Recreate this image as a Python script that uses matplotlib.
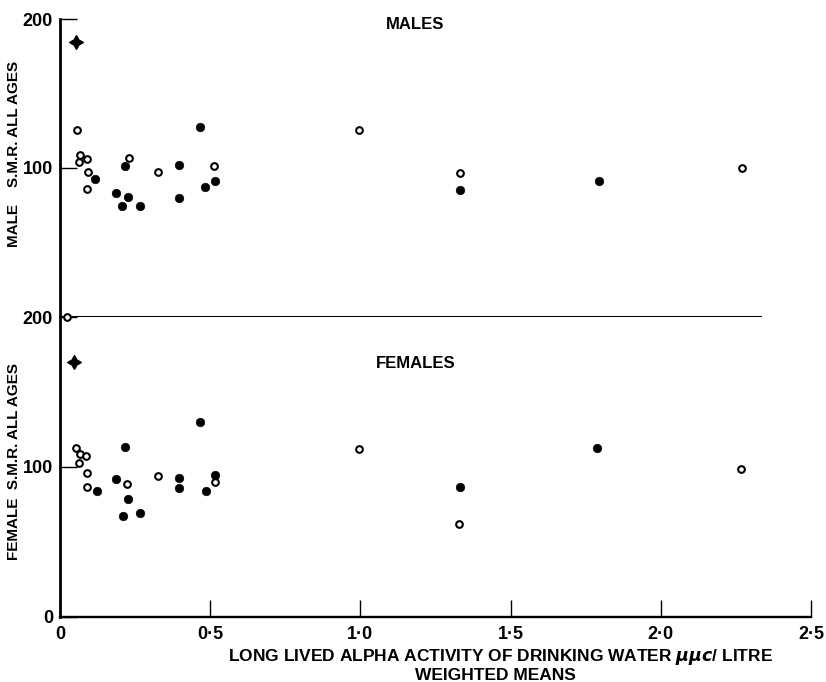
import matplotlib
matplotlib.use("Agg")
import matplotlib.pyplot as plt

plt.rcParams['font.family'] = ['Liberation Sans Narrow', 'Liberation Sans', 'DejaVu Sans']
plt.rcParams['font.weight'] = 'bold'
plt.rcParams['mathtext.fontset'] = 'dejavusans'

# males: open circles, filled circles, star
male_open_x = [0.056, 0.067, 0.089, 0.064, 0.092, 0.090, 0.229, 0.325, 0.514, 0.997, 1.333, 2.269]
male_open_y = [125.5, 108.7, 105.8, 103.8, 97.1, 85.7, 107.0, 97.5, 101.3, 125.5, 96.8, 100.0]
male_filled_x = [0.118, 0.188, 0.208, 0.228, 0.218, 0.267, 0.397, 0.397, 0.466, 0.484, 0.517, 1.333, 1.793]
male_filled_y = [92.6, 83.5, 74.3, 80.7, 101.5, 74.3, 102.2, 79.9, 127.7, 87.2, 91.1, 85.4, 91.1]
male_star_x = [0.053]
male_star_y = [184.6]

# females
female_open_x = [0.054, 0.067, 0.087, 0.064, 0.089, 0.089, 0.223, 0.327, 0.515, 0.995, 1.329, 2.268, 0.022]
female_open_y = [112.6, 108.4, 107.2, 102.5, 95.6, 86.5, 88.5, 93.6, 89.6, 111.9, 61.5, 98.5, 200.0]
female_filled_x = [0.122, 0.188, 0.218, 0.226, 0.209, 0.267, 0.397, 0.395, 0.465, 0.487, 0.515, 1.332, 1.789]
female_filled_y = [83.6, 91.8, 113.0, 78.7, 66.9, 69.1, 92.8, 85.6, 130.0, 84.1, 94.3, 86.3, 112.6]
female_star_x = [0.046]
female_star_y = [170.1]

x_ticks = [0, 0.5, 1.0, 1.5, 2.0, 2.5]
x_tick_labels = ['0', '0\u00b75', '1\u00b70', '1\u00b75', '2\u00b70', '2\u00b75']

W, H = 826, 682
fig = plt.figure(figsize=(W / 100, H / 100), dpi=100)

left = 60 / W
width = (811 - 60) / W
ax1 = fig.add_axes([left, 1 - 317 / H, width, (317 - 19) / H])
ax2 = fig.add_axes([left, 1 - 616.5 / H, width, (616.5 - 317) / H])

xlim = (0, 2.5)


def draw_points(ax, ox, oy, fx, fy, sx, sy):
    ax.plot(ox, oy, 'o', ms=4.8, mfc='white', mec='black', mew=1.5, ls='none', clip_on=False, zorder=3)
    ax.plot(fx, fy, 'o', ms=6.2, mew=0.4, color='black', ls='none', clip_on=False, zorder=3)
    ax.plot(sx, sy, marker=(4, 1, 0), ms=10, color='black', ls='none', clip_on=False, zorder=3)


draw_points(ax1, male_open_x, male_open_y, male_filled_x, male_filled_y, male_star_x, male_star_y)
draw_points(ax2, female_open_x, female_open_y, female_filled_x, female_filled_y, female_star_x, female_star_y)

for ax in (ax1, ax2):
    ax.set_xlim(*xlim)
    ax.set_ylim(0, 200)
    ax.spines['top'].set_visible(False)
    ax.spines['right'].set_visible(False)
    ax.spines['left'].set_linewidth(2.0)
    ax.tick_params(axis='y', direction='in', length=12, width=1.0, pad=5, labelsize=13)
    ax.tick_params(axis='x', direction='in', length=12, width=1.0, pad=6.5, labelsize=13)

# top panel
ax1.spines['bottom'].set_linewidth(2.2)
ax1.spines['bottom'].set_bounds(xlim[0], 2.33)
ax1.set_xticks([])
ax1.set_yticks([100, 200])
ax1.set_yticklabels(['100', '200'])
ax1.text(1.183, 196.5, 'MALES', ha='center', va='center', fontsize=12, fontweight='bold')

# bottom panel
ax2.spines['bottom'].set_linewidth(1.7)
ax2.set_xticks(x_ticks)
ax2.set_xticklabels(x_tick_labels)
ax2.set_yticks([0, 100, 200])
ax2.set_yticklabels(['0', '100', '200'])
ax2.text(1.183, 169, 'FEMALES', ha='center', va='center', fontsize=12, fontweight='bold')

fig.text(14 / W, 1 - 154 / H, 'MALE    S.M.R. ALL AGES', rotation=90, ha='center', va='center',
         fontsize=11, fontweight='bold')
fig.text(14 / W, 1 - 462 / H, 'FEMALE  S.M.R. ALL AGES', rotation=90, ha='center', va='center',
         fontsize=11, fontweight='bold')

fig.text(500 / W, 1 - 657 / H, r'LONG LIVED ALPHA ACTIVITY OF DRINKING WATER $\mu\mu c$/ LITRE',
         ha='center', va='center', fontsize=12.5, fontweight='bold')
fig.text(495 / W, 1 - 675 / H, 'WEIGHTED MEANS', ha='center', va='center', fontsize=12.5, fontweight='bold')

fig.savefig('out.png', dpi=100)
